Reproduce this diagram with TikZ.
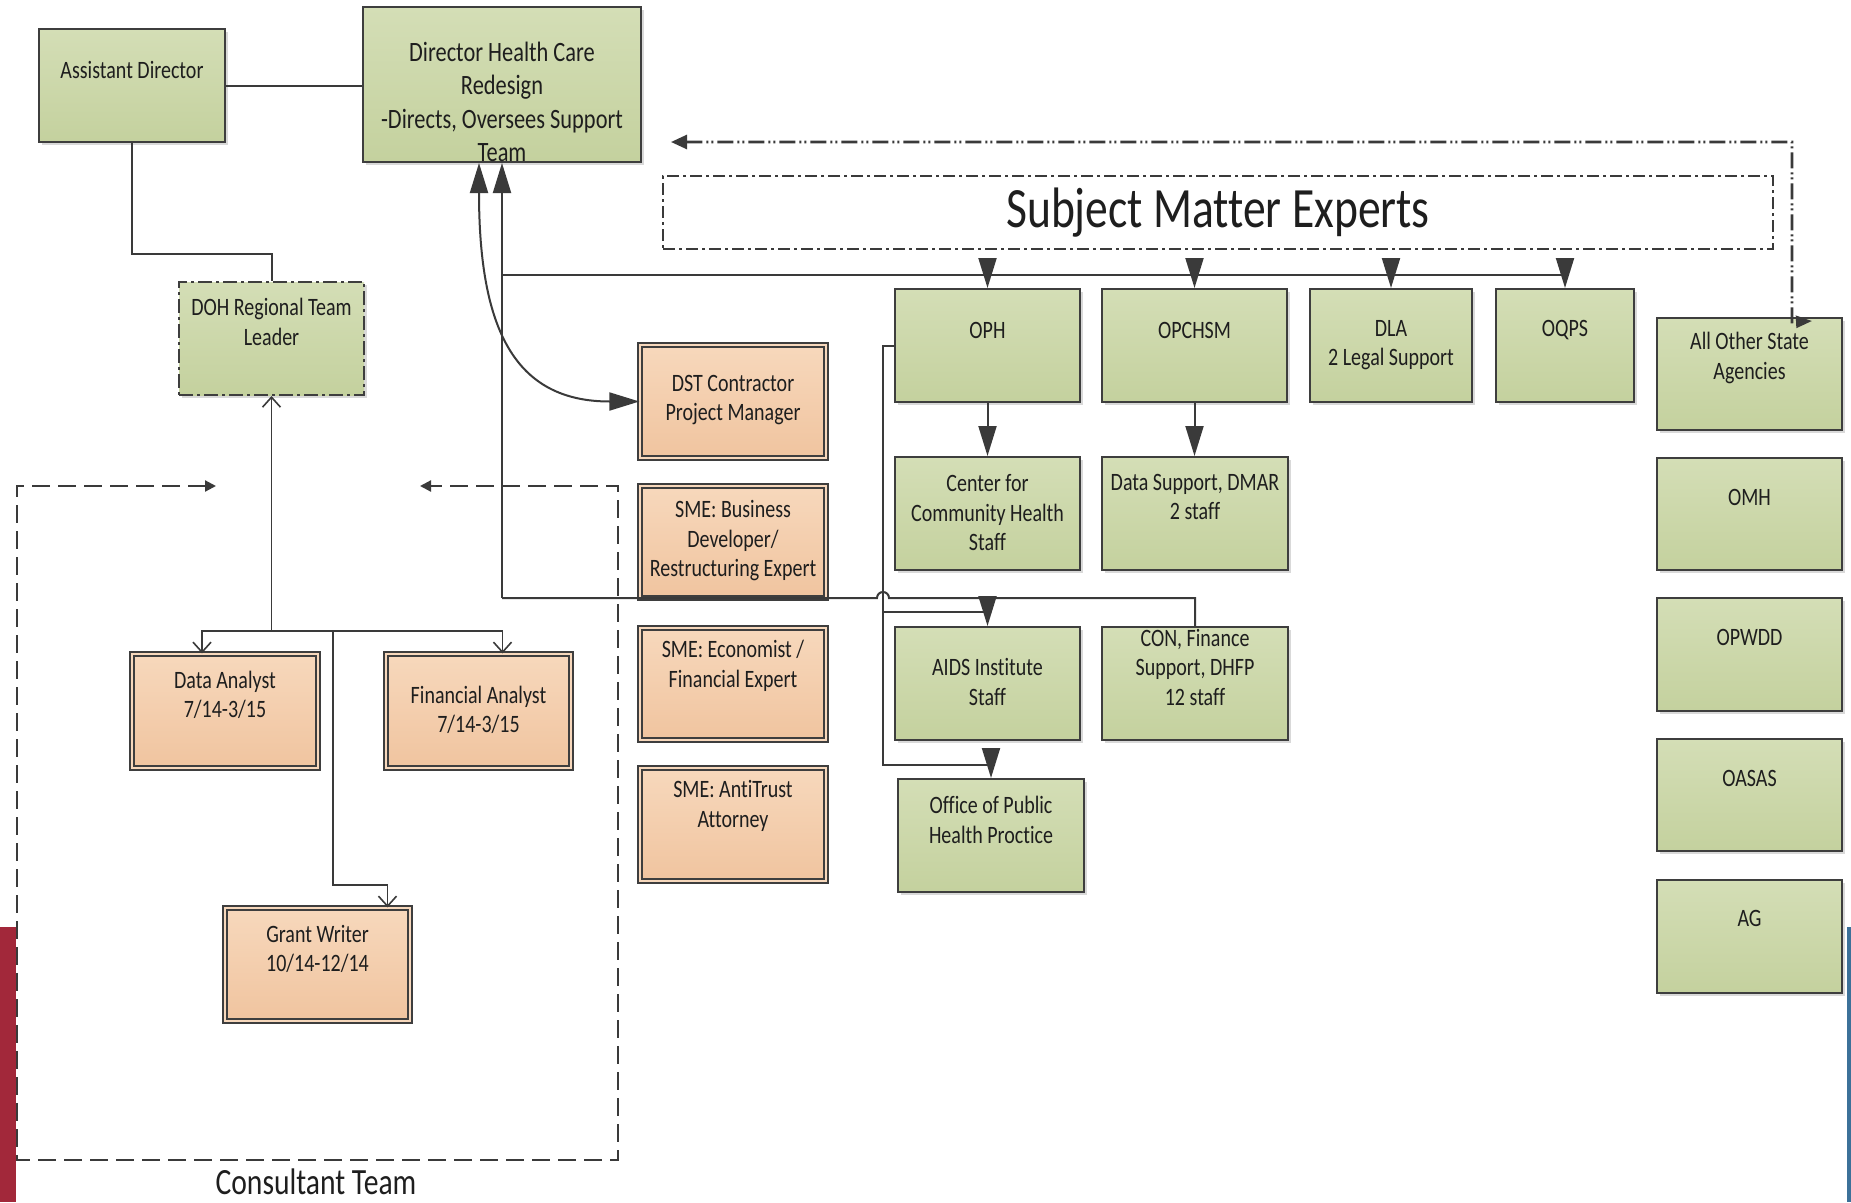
\documentclass[tikz,border=0pt]{standalone}
\usepackage{fontspec}
\setmainfont{Carlito}[FakeStretch=0.8,Ligatures=NoCommon]
\usetikzlibrary{arrows.meta,calc,shadows}
\definecolor{gtop}{HTML}{D4DEB6}
\definecolor{gbot}{HTML}{C4D19E}
\definecolor{otop}{HTML}{F7D8BC}
\definecolor{obot}{HTML}{F0C49F}
\definecolor{bord}{HTML}{3E3E3E}
\definecolor{txtc}{HTML}{1E1E1E}
\definecolor{lnc}{HTML}{3A3A3A}
\definecolor{redbar}{HTML}{A2283A}
\definecolor{bluebar}{HTML}{3C7199}
\begin{document}
\begin{tikzpicture}[x=1pt,y=-1pt,
  box/.style={draw=bord, line width=2pt, inner sep=0pt,
    drop shadow={shadow xshift=3pt, shadow yshift=-3pt, opacity=0.15, fill=black}},
  gbox/.style={box, top color=gtop, bottom color=gbot},
  obox/.style={box, top color=otop, bottom color=obot, line width=1.3pt,
    double=otop, double distance=2.6pt},
  txt/.style={align=center, inner sep=0pt, text=txtc, font=\fontsize{25}{29.5}\selectfont},
  con/.style={draw=lnc, line width=2pt},
  tarr/.style={con, -{Triangle[length=30pt,width=18pt]}},
  oarr/.style={con, line width=1.6pt, -{Straight Barb[length=10pt,width=18pt]}},
  dashdot/.style={draw=lnc, line width=2pt, dash pattern=on 12pt off 4pt on 3pt off 4pt},
  ddot/.style={draw=lnc, line width=2.6pt, dash pattern=on 16pt off 4pt on 2pt off 3pt on 2pt off 4pt},
  cdash/.style={draw=lnc, line width=2.2pt, dash pattern=on 18pt off 8pt}
]
\useasboundingbox (0,0) rectangle (1851,1202);
\fill[white] (0,0) rectangle (1851,1202);
\fill[redbar] (0,927) rectangle (16,1202);
\fill[bluebar] (1847,927) rectangle (1851,1202);

% green boxes
\node[gbox, minimum width=186pt, minimum height=113pt] (ad) at (132,85.5) {};
\node[gbox, minimum width=278pt, minimum height=155pt] (dir) at (502,84.5) {};
\node[gbox, draw=bord, dash pattern=on 14pt off 4pt on 3pt off 4pt, minimum width=185pt, minimum height=113pt] (doh) at (271.5,338.5) {};
\node[gbox, minimum width=185pt, minimum height=113pt] (oph) at (987.5,345.5) {};
\node[gbox, minimum width=185pt, minimum height=113pt] (opchsm) at (1194.5,345.5) {};
\node[gbox, minimum width=162pt, minimum height=113pt] (dla) at (1391,345.5) {};
\node[gbox, minimum width=138pt, minimum height=113pt] (oqps) at (1565,345.5) {};
\node[gbox, minimum width=185pt, minimum height=112pt] (aosa) at (1749.5,374) {};
\node[gbox, minimum width=185pt, minimum height=112pt] (omh) at (1749.5,514) {};
\node[gbox, minimum width=185pt, minimum height=113pt] (opwdd) at (1749.5,654.5) {};
\node[gbox, minimum width=185pt, minimum height=112pt] (oasas) at (1749.5,795) {};
\node[gbox, minimum width=185pt, minimum height=113pt] (ag) at (1749.5,936.5) {};
\node[gbox, minimum width=185pt, minimum height=113pt] (cch) at (987.5,513.5) {};
\node[gbox, minimum width=186pt, minimum height=113pt] (ds) at (1195,513.5) {};
\node[gbox, minimum width=185pt, minimum height=113pt] (aids) at (987.5,683.5) {};
\node[gbox, minimum width=186pt, minimum height=113pt] (con) at (1195,683.5) {};
\node[gbox, minimum width=186pt, minimum height=113pt] (ophp) at (991,835.5) {};

% orange boxes
\node[obox, minimum width=186pt, minimum height=113pt] (dst) at (733,401.5) {};
\node[obox, minimum width=186pt, minimum height=112pt] (smeb) at (733,542) {};
\node[obox, minimum width=186pt, minimum height=112pt] (smee) at (733,684) {};
\node[obox, minimum width=186pt, minimum height=113pt] (smea) at (733,824.5) {};
\node[obox, minimum width=186pt, minimum height=114pt] (da) at (225,711) {};
\node[obox, minimum width=185pt, minimum height=114pt] (fa) at (478.5,711) {};
\node[obox, minimum width=185pt, minimum height=113pt] (gw) at (317.5,964.5) {};

% subject matter experts frame
\node[dashdot, minimum width=1110pt, minimum height=73pt, inner sep=0pt] (sme) at (1218,212.5) {};
\node[txt, font=\fontsize{57}{60}\selectfont] (t-sme) at (1218,213) {Subject Matter Experts};

% texts
\node[txt] (t-ad) at (132,70) {Assistant Director};
\node[txt, font=\fontsize{28}{33.5}\selectfont] (t-dir) at (502,102) {Director Health Care\\Redesign\\-Directs, Oversees Support\\Team};
\node[txt] (t-doh) at (271.5,322) {DOH Regional Team\\Leader};
\node[txt] (t-dst) at (733,400) {DST Contractor\\Project Manager};
\node[txt] (t-smeb) at (733,541) {SME: Business\\Developer/\\Restructuring Expert};
\node[txt] (t-smee) at (733,666) {SME: Economist /\\Financial Expert};
\node[txt] (t-smea) at (733,806) {SME: AntiTrust\\Attorney};
\node[txt] (t-oph) at (987.5,330) {OPH};
\node[txt] (t-opchsm) at (1194.5,330) {OPCHSM};
\node[txt] (t-dla) at (1391,345) {DLA\\2 Legal Support};
\node[txt] (t-oqps) at (1565,330) {OQPS};
\node[txt] (t-aosa) at (1749.5,358) {All Other State\\Agencies};
\node[txt] (t-omh) at (1749.5,497) {OMH};
\node[txt] (t-opwdd) at (1749.5,637) {OPWDD};
\node[txt] (t-oasas) at (1749.5,778) {OASAS};
\node[txt] (t-ag) at (1749.5,918) {AG};
\node[txt] (t-cch) at (987.5,513) {Center for\\Community Health\\Staff};
\node[txt] (t-ds) at (1195,497) {Data Support, DMAR\\2 staff};
\node[txt] (t-aids) at (987.5,682) {AIDS Institute\\Staff};
\node[txt] (t-con) at (1195,667) {CON, Finance\\Support, DHFP\\12 staff};
\node[txt] (t-ophp) at (991,820) {Office of Public\\Health Proctice};
\node[txt] (t-da) at (225,695) {Data Analyst\\7/14-3/15};
\node[txt] (t-fa) at (478.5,710) {Financial Analyst\\7/14-3/15};
\node[txt] (t-gw) at (317.5,949) {Grant Writer\\10/14-12/14};
\node[txt, font=\fontsize{37}{40}\selectfont] (t-cons) at (316,1182) {Consultant Team};

% consultant team frame
\draw[cdash, {Triangle[length=11pt,width=11pt]}-{Triangle[length=11pt,width=11pt]}]
  (216,486) -- (17,486) -- (17,1160) -- (618,1160) -- (618,486) -- (420,486);

% connectors
\draw[con] (ad.east) -- (ad.east -| dir.west);
\draw[con] (ad.south) -- (132,254) -| (doh.north);

\coordinate (j1) at (271.5,631);
\coordinate (j3) at (333,631);
\draw[oarr] (j1) -- (doh.south);
\draw[oarr] (j1) -| ($(da.north)+(-23,0)$);
\draw[oarr] (j1) -| ($(fa.north)+(24,0)$);
\draw[oarr] (j3) -- (333,885) -| ($(gw.north)+(70,0)$);

\coordinate (j2) at (502,598);
\coordinate (h1) at (502,275);
\draw[tarr] (j2) -- (dir.south);
\draw[con] (h1) -- (h1 -| oqps.north);
\draw[con] (j2) -- (877,598) arc[start angle=180, end angle=360, radius=6] -- (j2 -| con.north) -- (con.north);
\draw[{Triangle[length=30pt,width=18pt]}-{Triangle[length=30pt,width=18pt]}, con]
  ($(dir.south)+(-23,0)$) .. controls (479,330) and (515,401.5) .. (dst.west);

\foreach \n in {oph,opchsm,dla,oqps}
  \draw[tarr] ($(sme.south -| \n.north)+(0,8)$) -- (\n.north);

\draw[tarr] (oph.south) -- (cch.north);
\draw[tarr] (opchsm.south) -- (opchsm.south |- ds.north);

\draw[con] (oph.west) -- (883,345.5) -- (883,765) -- (991,765);
\draw[tarr] (991,765) -- (ophp.north);
\draw[con] (883,612) -- (aids.north |- 0,612);
\draw[tarr] (aids.north |- j2) -- (aids.north);

% top dash-dot connector to all other agencies
\coordinate (tl) at (671,142);
\coordinate (tr) at (1792,142);
\draw[ddot, {Triangle[length=16pt,width=14pt]}-{Triangle[length=16pt,width=12pt]}]
  (tl) -- (tr) -- (1792,322) -- ($(aosa.north west)+(156,4)$);
\end{tikzpicture}
\end{document}
